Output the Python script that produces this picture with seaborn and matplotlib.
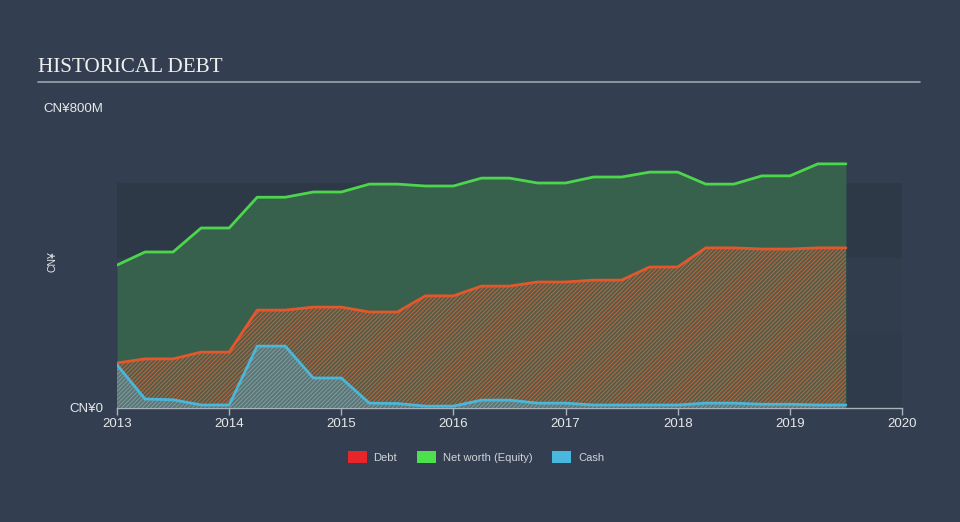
import matplotlib
matplotlib.use("Agg")
import matplotlib.pyplot as plt
from matplotlib.patches import Patch
import seaborn as sns

# ---- data (CN¥ millions), quarterly ----
years = [2013.0, 2013.25, 2013.5, 2013.75, 2014.0, 2014.25, 2014.5, 2014.75,
         2015.0, 2015.25, 2015.5, 2015.75, 2016.0, 2016.25, 2016.5, 2016.75,
         2017.0, 2017.25, 2017.5, 2017.75, 2018.0, 2018.25, 2018.5, 2018.75,
         2019.0, 2019.25, 2019.5]
equity = [381, 416, 416, 480, 480, 562, 562, 576, 576, 597, 597, 592, 592, 613,
          613, 600, 600, 616, 616, 629, 629, 597, 597, 619, 619, 651, 651]
debt = [120, 131, 131, 149, 149, 261, 261, 269, 269, 256, 256, 299, 299, 325,
        325, 336, 336, 341, 341, 376, 376, 427, 427, 424, 424, 427, 427]
cash = [115, 24, 22, 8, 8, 165, 165, 80, 80, 13, 12, 5, 5, 21, 21, 13, 13, 8,
        8, 8, 8, 13, 13, 10, 10, 8, 8]
x_ticks = [2013, 2014, 2015, 2016, 2017, 2018, 2019, 2020]
y_ticks = [0, 800]
y_tick_labels = ["CN¥0", "CN¥800M"]
legend_labels = ["Debt", "Net worth (Equity)", "Cash"]

BG = "#333f50"
TXT = "#e6e8ea"

sns.set_theme(style="dark")
plt.rcParams["font.family"] = ["Liberation Sans", "DejaVu Sans"]
plt.rcParams["hatch.linewidth"] = 0.8

fig = plt.figure(figsize=(9.6, 5.22), dpi=100, facecolor=BG)
ax = fig.add_axes([117 / 960, 114 / 522, 785 / 960, 300 / 522])
ax.set_facecolor(BG)

# background bands
ax.axhspan(0, 200, color="#2f3a4a", lw=0, zorder=0)
ax.axhspan(200, 400, color="#313c4c", lw=0, zorder=0)
ax.axhspan(400, 600, color="#2e3948", lw=0, zorder=0)

# areas
ax.fill_between(years, 0, equity, color="#37604d", lw=0, zorder=1)
ax.fill_between(years, 0, debt, facecolor="#4f5e4a", edgecolor="#b8643f",
                hatch="////////", lw=0, zorder=2)
ax.fill_between(years, 0, cash, facecolor="#5a7478", edgecolor="#7c9a98",
                hatch="////////", lw=0, zorder=3)

# lines
sns.lineplot(x=years, y=equity, ax=ax, color="#4cd64c", lw=2, zorder=5)
sns.lineplot(x=years, y=debt, ax=ax, color="#e2582c", lw=2, zorder=5)
sns.lineplot(x=years, y=cash, ax=ax, color="#4ab6da", lw=2, zorder=6)

ax.set_xlim(2013, 2020)
ax.set_ylim(0, 800)
ax.grid(False)
for s in ["top", "right", "left"]:
    ax.spines[s].set_visible(False)
ax.spines["bottom"].set_color("#a9b1ba")
ax.spines["bottom"].set_linewidth(1)

ax.set_xticks(x_ticks)
ax.set_xticklabels([str(t) for t in x_ticks])
ax.tick_params(axis="x", colors="#a9b1ba", labelcolor=TXT, length=5,
               width=1, direction="out", pad=2, labelsize=9.5, bottom=True)
ax.set_yticks(y_ticks)
ax.set_yticklabels(y_tick_labels)
ax.tick_params(axis="y", length=0, pad=10, labelcolor=TXT, labelsize=9.5)
ax.set_xlabel("")
ax.set_ylabel("")

fig.text(52 / 960, 1 - 262 / 522, "CN¥", rotation=90, color=TXT,
         fontsize=7.5, ha="center", va="center")

# title and rule
fig.text(38 / 960, 1 - 68 / 522, "HISTORICAL DEBT", color="#f0f0f0",
         fontsize=15.2, family=["Liberation Serif", "DejaVu Serif"],
         ha="left", va="center")
fig.add_artist(plt.Line2D([38 / 960, 920 / 960], [1 - 82 / 522, 1 - 82 / 522],
                          color="#9aa4ae", lw=1.2, transform=fig.transFigure))

handles = [Patch(facecolor="#e8262a", edgecolor="none"),
           Patch(facecolor="#4de04d", edgecolor="none"),
           Patch(facecolor="#4ab8de", edgecolor="none")]
fig.legend(handles, legend_labels, loc="center",
           bbox_to_anchor=(476 / 960, 65 / 522), ncol=3, frameon=False,
           fontsize=8, labelcolor="#d0d4d8", handlelength=1.7,
           handleheight=1.3, columnspacing=1.8, handletextpad=0.6)

fig.savefig("out.png", dpi=100, facecolor=BG)
